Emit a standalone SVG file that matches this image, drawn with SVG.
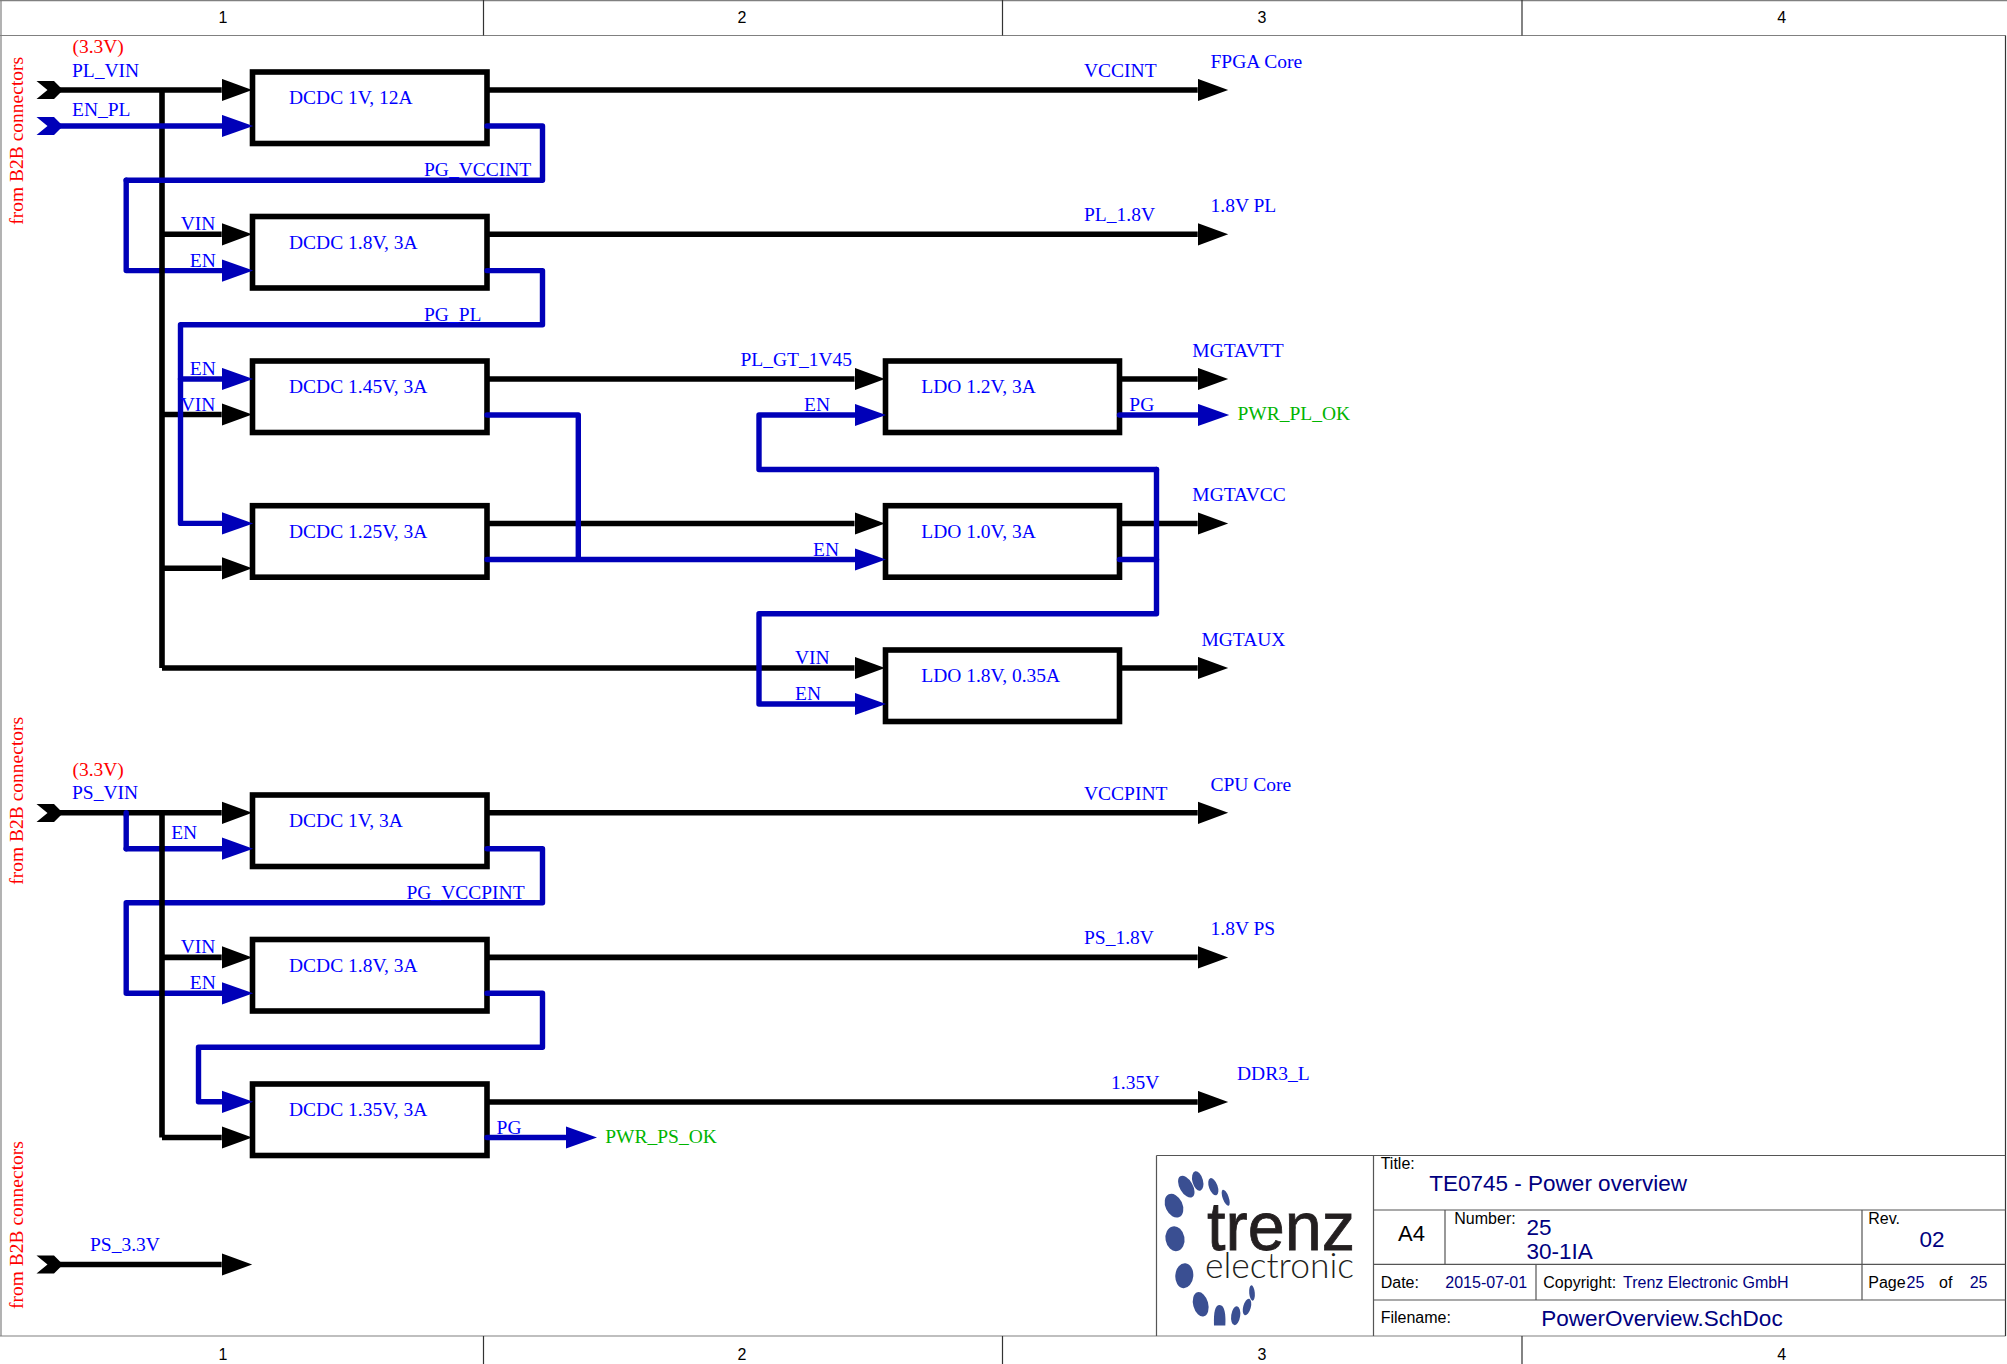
<svg xmlns="http://www.w3.org/2000/svg" width="2007" height="1364" viewBox="0 0 2007 1364">
<style>
text{font-family:"Liberation Serif","Times New Roman",serif;font-size:19.5px;fill:#0000ff}
.red{fill:#ff0000}
.grn{fill:#00b400}
.sans{font-family:"Liberation Sans",Arial,sans-serif;font-size:16px;fill:#000}
.navy{font-family:"Liberation Sans",Arial,sans-serif;font-size:16px;fill:#000080}
.big{font-size:22.5px}
.box{fill:#fff;stroke:#000;stroke-width:5.6}
.k{fill:none;stroke:#000;stroke-width:5.6;stroke-linejoin:round}
.b{fill:none;stroke:#0000b8;stroke-width:5.4;stroke-linejoin:round;stroke-linecap:round}
.ak{marker-end:url(#ak)}
.ab{marker-end:url(#ab)}
.fr{fill:none;stroke:#808080;stroke-width:1.2}
.tk{fill:none;stroke:#333;stroke-width:1.2}
.tb{fill:none;stroke:#555;stroke-width:1.2}
.dot{fill:#3a4f92}
.bd{font-family:"Liberation Sans",Arial,sans-serif;font-size:16px;fill:#000;text-anchor:middle}
</style>
<defs>
<marker id="ak" markerUnits="userSpaceOnUse" markerWidth="33" markerHeight="24" refX="0" refY="11.5" orient="auto"><path d="M0 .3L30.5 11.5L0 22.7z" fill="#000"/></marker>
<marker id="ab" markerUnits="userSpaceOnUse" markerWidth="33" markerHeight="24" refX="0" refY="11.5" orient="auto"><path d="M0 .3L31.5 11.5L0 22.7z" fill="#0000b8"/></marker>
</defs>
<rect width="2007" height="1364" fill="#fff"/>

<g id="frame">
<path class="fr" d="M0 .6H2007M1 0V1336M0 35.5H2005.5M0 1336H2005.5"/>
<path class="tk" d="M483.5 0V35.5M1002.5 0V35.5M1522 0V35.5M483.5 1336V1364M1002.5 1336V1364M1522 1336V1364M2005.5 35.5V1336"/>
<text class="bd" x="223" y="23">1</text>
<text class="bd" x="742" y="23">2</text>
<text class="bd" x="1262" y="23">3</text>
<text class="bd" x="1781.7" y="23">4</text>
<text class="bd" x="223" y="1360">1</text>
<text class="bd" x="742" y="1360">2</text>
<text class="bd" x="1262" y="1360">3</text>
<text class="bd" x="1781.7" y="1360">4</text>
</g>

<g id="n-dcdc-1v-12a"><rect class="box" x="252.5" y="72" width="234.5" height="71.5"/><text x="289" y="104.3">DCDC 1V, 12A</text></g>
<g id="n-dcdc-1v8-pl"><rect class="box" x="252.5" y="216.5" width="234.5" height="71.5"/><text x="289" y="248.5">DCDC 1.8V, 3A</text></g>
<g id="n-dcdc-1v45"><rect class="box" x="252.5" y="361" width="234.5" height="71.5"/><text x="289" y="393.3">DCDC 1.45V, 3A</text></g>
<g id="n-dcdc-1v25"><rect class="box" x="252.5" y="505.7" width="234.5" height="71.5"/><text x="289" y="537.7">DCDC 1.25V, 3A</text></g>
<g id="n-ldo-1v2"><rect class="box" x="885.5" y="361" width="234" height="71.5"/><text x="921.3" y="393">LDO 1.2V, 3A</text></g>
<g id="n-ldo-1v0"><rect class="box" x="885.5" y="505.7" width="234" height="71.5"/><text x="921.3" y="537.5">LDO 1.0V, 3A</text></g>
<g id="n-ldo-1v8"><rect class="box" x="885.5" y="650" width="234" height="71.5"/><text x="921.3" y="682.3">LDO 1.8V, 0.35A</text></g>
<g id="n-dcdc-1v-3a"><rect class="box" x="252.5" y="795" width="234.5" height="71.5"/><text x="289" y="827">DCDC 1V, 3A</text></g>
<g id="n-dcdc-1v8-ps"><rect class="box" x="252.5" y="939.5" width="234.5" height="71.5"/><text x="289" y="971.7">DCDC 1.8V, 3A</text></g>
<g id="n-dcdc-1v35"><rect class="box" x="252.5" y="1084" width="234.5" height="71.5"/><text x="289" y="1116.3">DCDC 1.35V, 3A</text></g>

<g id="connectors">
<path class="k ak" d="M60 90H221.7"/>
<path class="b ab" d="M126.2 180.3V270.6H221.7"/>
<path class="b" d="M126.2 812.8V848.7"/>
<path class="k ak" d="M60 812.8H221.7"/>
<path class="b" d="M126.2 812.8V815"/>
<path class="b ab" d="M126.2 848.7H221.7"/>
<path class="b ab" d="M487 848.7H542.5V902.7H126.2V993.3H221.7"/>
<path class="b ab" d="M487 993.3H542.5V1047.3H198.5V1101.8H221.7"/>
<path class="k" d="M162 90V668"/>
<path class="k ak" d="M160 234.3H221.7"/>
<path class="k ak" d="M160 414.5H221.7"/>
<path class="k ak" d="M160 568.3H221.7"/>
<path class="k ak" d="M162 668H854.5"/>
<path class="k ak" d="M487 90H1197.7"/>
<path class="k ak" d="M487 234.3H1197.7"/>
<path class="k ak" d="M487 379H854.5"/>
<path class="k ak" d="M487 523.5H854.5"/>
<path class="k ak" d="M1119.5 379H1197.7"/>
<path class="k ak" d="M1119.5 523.5H1197.7"/>
<path class="k ak" d="M1119.5 668H1197.7"/>
<path class="k ak" d="M162 1137.5V812.8" style="marker-end:none"/>
<path class="k ak" d="M162 1137.5H221.7"/>
<path class="k ak" d="M160 957.4H221.7"/>
<path class="k ak" d="M487 812.8H1197.7"/>
<path class="k ak" d="M487 957.4H1197.7"/>
<path class="k ak" d="M487 1102H1197.7"/>
<path class="k ak" d="M60 1264.5H221.7"/>
<path class="b ab" d="M60 126H221.7"/>
<path class="b" d="M487 126H542.5V180.3H126.2"/>
<path class="b ab" d="M487 270.6H542.5V324.7H180.5V523.4H221.7"/>
<path class="b ab" d="M180.5 379H221.7"/>
<path class="b" d="M487 415H578.3V559.3"/>
<path class="b ab" d="M487 559.5H854.5"/>
<path class="b ab" d="M1156.5 469.5H759V415H854.5"/>
<path class="b ab" d="M1156.5 469.5V613.7H759V704H854.5"/>
<path class="b" d="M1119.5 559.5H1156.5"/>
<path class="b ab" d="M1119.5 415H1197.7"/>
<path class="b ab" d="M487 1137.5H565.5"/>
<path d="M36.5 81H54L63 90L54 99H36.5L47.5 90z" fill="#000"/>
<path d="M36.5 117H54L63 126L54 135H36.5L47.5 126z" fill="#0000b8"/>
<path d="M36.5 804H54L63 813L54 822H36.5L47.5 813z" fill="#000"/>
<path d="M36.5 1255.5H54L63 1264.5L54 1273.5H36.5L47.5 1264.5z" fill="#000"/>
</g>

<g id="labels">
<text class="red" x="72.4" y="53">(3.3V)</text>
<text x="72" y="76.7">PL_VIN</text>
<text x="72" y="116">EN_PL</text>
<text x="424" y="175.7">PG_VCCINT</text>
<text x="180.7" y="229.7">VIN</text>
<text x="189.8" y="266.7">EN</text>
<text x="424" y="320.7">PG_PL</text>
<text x="189.8" y="374.7">EN</text>
<text x="180.7" y="410.7">VIN</text>
<text x="1084" y="77">VCCINT</text>
<text x="1210.5" y="68">FPGA Core</text>
<text x="1084" y="221">PL_1.8V</text>
<text x="1210.5" y="211.5">1.8V PL</text>
<text x="740.5" y="366">PL_GT_1V45</text>
<text x="1192.3" y="356.7">MGTAVTT</text>
<text x="804" y="410.7">EN</text>
<text x="1129.3" y="410.7">PG</text>
<text class="grn" x="1237.4" y="420">PWR_PL_OK</text>
<text x="1192.3" y="500.7">MGTAVCC</text>
<text x="813" y="555.7">EN</text>
<text x="1201.4" y="645.7">MGTAUX</text>
<text x="795" y="663.7">VIN</text>
<text x="795" y="699.7">EN</text>
<text class="red" x="72.4" y="776">(3.3V)</text>
<text x="72" y="798.7">PS_VIN</text>
<text x="171.2" y="838.7">EN</text>
<text x="406.5" y="899">PG_VCCPINT</text>
<text x="180.7" y="952.7">VIN</text>
<text x="189.8" y="988.7">EN</text>
<text x="496.6" y="1134">PG</text>
<text class="grn" x="605.2" y="1143">PWR_PS_OK</text>
<text x="1084" y="800">VCCPINT</text>
<text x="1210.5" y="790.5">CPU Core</text>
<text x="1084" y="944">PS_1.8V</text>
<text x="1210.5" y="935">1.8V PS</text>
<text x="1111" y="1089">1.35V</text>
<text x="1237" y="1079.5">DDR3_L</text>
<text x="90" y="1250.7">PS_3.3V</text>
<text class="red" transform="translate(23 224.7) rotate(-90)">from B2B connectors</text>
<text class="red" transform="translate(23 884.7) rotate(-90)">from B2B connectors</text>
<text class="red" transform="translate(23 1309) rotate(-90)">from B2B connectors</text>
</g>

<g id="title-block">
<path class="tb" d="M1156.5 1155.5H2005.5M1156.5 1155.5V1336M1373.5 1155.5V1336M1373.5 1210H2005.5M1373.5 1264.3H2005.5M1373.5 1300H2005.5M1445 1210V1264.3M1536 1264.3V1300M1862 1210V1300"/>
<text class="sans" x="1380.7" y="1169.3">Title:</text>
<text class="navy big" x="1429.3" y="1191">TE0745 - Power overview</text>
<text class="sans" style="font-size:22px" x="1398" y="1241.3">A4</text>
<text class="sans" x="1454.3" y="1224">Number:</text>
<text class="navy big" x="1526.5" y="1234.5">25</text>
<text class="navy big" x="1526.5" y="1258.5">30-1IA</text>
<text class="sans" x="1868.3" y="1224">Rev.</text>
<text class="navy big" x="1919.4" y="1247">02</text>
<text class="sans" x="1380.7" y="1287.7">Date:</text>
<text class="navy" x="1445.3" y="1287.7">2015-07-01</text>
<text class="sans" x="1543.3" y="1287.7">Copyright:</text>
<text class="navy" x="1623" y="1287.7">Trenz Electronic GmbH</text>
<text class="sans" x="1868.3" y="1287.7">Page</text>
<text class="navy" x="1906.6" y="1287.7">25</text>
<text class="sans" x="1939" y="1287.7">of</text>
<text class="navy" x="1969.7" y="1287.7">25</text>
<text class="sans" x="1380.7" y="1323.3">Filename:</text>
<text class="navy big" x="1541.3" y="1326">PowerOverview.SchDoc</text>
</g>

<g id="logo">
<ellipse class="dot" cx="1174" cy="1205.7" rx="8.5" ry="12.5" transform="rotate(-25 1174 1205.7)"/>
<ellipse class="dot" cx="1175" cy="1238.7" rx="9.5" ry="12.5" transform="rotate(-10 1175 1238.7)"/>
<ellipse class="dot" cx="1184.3" cy="1275.7" rx="9" ry="12.5" transform="rotate(5 1184.3 1275.7)"/>
<ellipse class="dot" cx="1200.7" cy="1304.3" rx="7.5" ry="12.5" transform="rotate(-15 1200.7 1304.3)"/>
<path class="dot" d="M1214 1325.5C1213.5 1312 1215 1305 1219.7 1305C1224.5 1305 1226 1314 1225.3 1325.5z"/>
<ellipse class="dot" cx="1235.7" cy="1315.7" rx="4.5" ry="9.5" transform="rotate(8 1235.7 1315.7)"/>
<ellipse class="dot" cx="1247" cy="1307" rx="3.8" ry="8.5" transform="rotate(15 1247 1307)"/>
<ellipse class="dot" cx="1252" cy="1293" rx="2.8" ry="7.7" transform="rotate(-5 1252 1293)"/>
<ellipse class="dot" cx="1186.3" cy="1186.7" rx="6.5" ry="12" transform="rotate(-30 1186.3 1186.7)"/>
<ellipse class="dot" cx="1197.7" cy="1181" rx="5.3" ry="10" transform="rotate(-15 1197.7 1181)"/>
<ellipse class="dot" cx="1213.3" cy="1186.7" rx="4.3" ry="9" transform="rotate(-20 1213.3 1186.7)"/>
<ellipse class="dot" cx="1225.7" cy="1197.7" rx="3" ry="8.5" transform="rotate(-20 1225.7 1197.7)"/>
<text style="font-family:'Liberation Sans',Arial,sans-serif;font-size:68px;fill:#231f20;stroke:#231f20;stroke-width:.8" x="1207" y="1249.5" textLength="148" lengthAdjust="spacingAndGlyphs">trenz</text>
<text style="font-family:Lato,'Liberation Sans',sans-serif;font-weight:300;font-size:36px;fill:#231f20" x="1205" y="1278.3" textLength="149" lengthAdjust="spacingAndGlyphs">electronic</text>
</g>
</svg>
